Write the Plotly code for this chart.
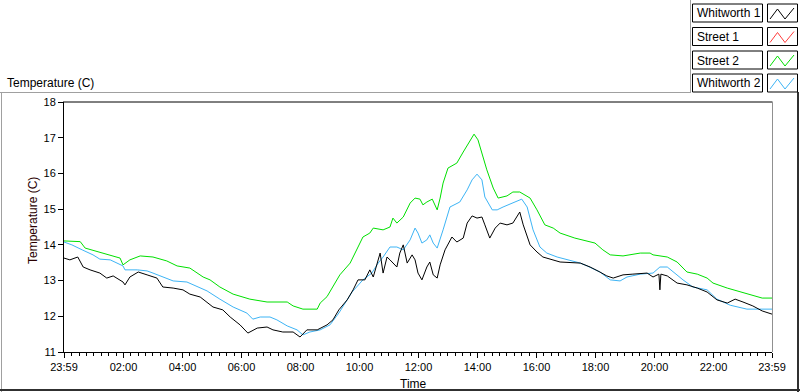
import plotly.graph_objects as go

# ---------------- data (minutes after 00:00; -1 = 23:59 previous day) ----------------
w1_min = [-1, 11, 27, 38, 52, 72, 86, 99, 119, 123, 133, 150, 168, 188, 200, 221, 241, 255, 276, 290,
          302, 322, 337, 357, 373, 392, 412, 424, 444, 465, 479, 493, 514, 534, 546, 558, 575, 587, 597,
          611, 621, 628, 642, 648, 656, 662, 676, 682, 689, 697, 707, 713, 719, 727, 737, 743, 750, 758,
          764, 774, 788, 798, 811, 819, 829, 839, 849, 855, 865, 876, 886, 900, 912, 926, 933, 947, 961,
          973, 994, 1008, 1049, 1069, 1089, 1103, 1116, 1136, 1156, 1185, 1197, 1209, 1211, 1213, 1226,
          1246, 1266, 1287, 1307, 1327, 1348, 1364, 1380, 1400, 1419, 1439]
w1_temp = [13.63, 13.58, 13.66, 13.38, 13.30, 13.21, 13.07, 13.13, 12.96, 12.88, 13.10, 13.24, 13.16, 13.07,
           12.82, 12.79, 12.74, 12.62, 12.54, 12.40, 12.26, 12.18, 11.98, 11.76, 11.53, 11.67, 11.70, 11.62,
           11.56, 11.56, 11.42, 11.62, 11.62, 11.76, 11.90, 12.18, 12.46, 12.74, 13.02, 13.02, 13.30, 13.10,
           13.77, 13.21, 13.66, 13.58, 13.38, 13.77, 14.00, 13.49, 13.72, 13.58, 13.21, 13.02, 13.38, 13.52,
           13.16, 13.07, 13.44, 13.86, 14.22, 14.08, 14.19, 14.61, 14.81, 14.75, 14.78, 14.56, 14.19, 14.47,
           14.61, 14.56, 14.61, 14.92, 14.56, 14.00, 13.80, 13.66, 13.58, 13.52, 13.49, 13.38, 13.24, 13.13,
           13.07, 13.16, 13.18, 13.21, 13.10, 13.18, 12.74, 13.18, 13.13, 12.93, 12.88, 12.79, 12.68, 12.46,
           12.37, 12.48, 12.40, 12.29, 12.15, 12.06]

s2_min = [-1, 32, 42, 78, 113, 119, 133, 154, 180, 208, 229, 255, 282, 296, 316, 343, 377, 412, 453, 465,
          485, 514, 520, 534, 546, 560, 581, 595, 607, 621, 628, 648, 662, 668, 676, 689, 703, 713, 723, 729,
          737, 748, 758, 764, 770, 780, 798, 811, 825, 833, 841, 851, 859, 872, 882, 900, 912, 926, 947, 961,
          977, 994, 1008, 1038, 1079, 1095, 1110, 1136, 1171, 1191, 1197, 1226, 1246, 1266, 1287, 1307, 1319,
          1348, 1374, 1394, 1419, 1439]
s2_temp = [14.11, 14.09, 13.91, 13.77, 13.63, 13.44, 13.58, 13.69, 13.66, 13.55, 13.41, 13.35, 13.10, 13.02,
           12.82, 12.62, 12.48, 12.40, 12.40, 12.29, 12.20, 12.20, 12.37, 12.55, 12.82, 13.16, 13.49, 13.86,
           14.22, 14.33, 14.47, 14.42, 14.50, 14.75, 14.61, 14.78, 15.17, 15.31, 15.28, 15.12, 15.20, 15.28,
           14.98, 15.31, 15.73, 16.15, 16.29, 16.60, 16.94, 17.10, 16.94, 16.46, 16.10, 15.59, 15.31, 15.37,
           15.48, 15.48, 15.31, 14.98, 14.56, 14.47, 14.33, 14.19, 14.05, 13.86, 13.72, 13.69, 13.77, 13.77,
           13.72, 13.66, 13.52, 13.24, 13.18, 13.07, 12.93, 12.79, 12.68, 12.60, 12.51, 12.51]

w2_min = [-1, 15, 36, 58, 72, 93, 119, 123, 148, 168, 180, 200, 221, 249, 270, 290, 316, 343, 371, 383, 398,
          418, 432, 453, 473, 485, 499, 520, 540, 558, 585, 607, 625, 638, 648, 662, 676, 689, 703, 713, 719,
          727, 737, 743, 750, 758, 770, 784, 804, 819, 829, 839, 849, 855, 870, 880, 892, 912, 930, 941, 953,
          967, 981, 1002, 1049, 1063, 1089, 1110, 1130, 1144, 1171, 1197, 1211, 1226, 1238, 1258, 1278, 1307,
          1327, 1354, 1388, 1419, 1439]
w2_temp = [14.08, 14.00, 13.86, 13.72, 13.60, 13.58, 13.41, 13.30, 13.30, 13.27, 13.21, 13.10, 12.99, 12.96,
           12.82, 12.71, 12.48, 12.26, 12.09, 11.92, 11.98, 11.98, 11.90, 11.73, 11.62, 11.48, 11.56, 11.62,
           11.76, 12.09, 12.68, 13.02, 13.21, 13.49, 13.66, 13.94, 13.94, 13.86, 14.14, 14.47, 14.33, 14.05,
           14.14, 14.28, 14.05, 13.91, 14.42, 15.06, 15.20, 15.54, 15.82, 15.98, 15.82, 15.34, 14.98, 14.98,
           15.06, 15.17, 15.28, 15.06, 14.42, 13.94, 13.77, 13.66, 13.49, 13.41, 13.24, 13.02, 12.99, 13.10,
           13.18, 13.21, 13.38, 13.38, 13.24, 13.02, 12.82, 12.74, 12.48, 12.31, 12.20, 12.20, 12.20]

series_names = ["Whitworth 1", "Street 1", "Street 2", "Whitworth 2"]
series_colors = ["#000000", "#ff3c3c", "#00e000", "#3db4f5"]

x_tick_vals = [-1, 120, 240, 360, 480, 600, 720, 840, 960, 1080, 1200, 1320, 1439]
x_tick_text = ["23:59", "02:00", "04:00", "06:00", "08:00", "10:00", "12:00", "14:00", "16:00",
               "18:00", "20:00", "22:00", "23:59"]
y_tick_vals = [11, 12, 13, 14, 15, 16, 17, 18]

# ---------------- layout helpers (pixel -> paper) ----------------
W, H = 800, 392
PL, PR, PT, PB = 64, 772, 102, 352


def X(px):
    return (px - PL) / (PR - PL)


def Y(py):
    return (PB - py) / (PB - PT)


FONT = "Liberation Sans, Arial, sans-serif"

fig = go.Figure()
fig.add_trace(go.Scatter(x=w2_min, y=w2_temp, mode="lines", line=dict(color=series_colors[3], width=1),
                         name=series_names[3], showlegend=False))
fig.add_trace(go.Scatter(x=s2_min, y=s2_temp, mode="lines", line=dict(color=series_colors[2], width=1),
                         name=series_names[2], showlegend=False))
fig.add_trace(go.Scatter(x=w1_min, y=w1_temp, mode="lines", line=dict(color=series_colors[0], width=1),
                         name=series_names[0], showlegend=False))

shapes = []
annotations = []

# outer frame
shapes.append(dict(type="line", xref="paper", yref="paper", x0=X(0), x1=X(690), y0=Y(92.5), y1=Y(92.5),
                   line=dict(color="#a0a0a0", width=1)))
shapes.append(dict(type="line", xref="paper", yref="paper", x0=X(1.5), x1=X(1.5), y0=Y(92.5), y1=Y(392),
                   line=dict(color="#a0a0a0", width=1)))
shapes.append(dict(type="line", xref="paper", yref="paper", x0=X(690.5), x1=X(690.5), y0=Y(0), y1=Y(93),
                   line=dict(color="#a0a0a0", width=1)))
shapes.append(dict(type="line", xref="paper", yref="paper", x0=X(0), x1=X(800), y0=Y(390), y1=Y(390),
                   line=dict(color="#303030", width=2)))
shapes.append(dict(type="line", xref="paper", yref="paper", x0=X(798), x1=X(798), y0=Y(92), y1=Y(392),
                   line=dict(color="#303030", width=2)))
# plot frame: top black, right gray
shapes.append(dict(type="line", xref="paper", yref="paper", x0=X(63), x1=X(772.5), y0=Y(102), y1=Y(102),
                   line=dict(color="#000000", width=1)))
shapes.append(dict(type="line", xref="paper", yref="paper", x0=X(772.5), x1=X(772.5), y0=Y(102), y1=Y(352),
                   line=dict(color="#909090", width=1)))

# legend
row_tops = [4, 27.5, 51, 74]
for name, color, top in zip(series_names, series_colors, row_tops):
    bot = top + 18
    shapes.append(dict(type="rect", xref="paper", yref="paper", x0=X(692.5), x1=X(762.5), y0=Y(bot), y1=Y(top),
                       line=dict(color="#000000", width=1), fillcolor="white"))
    shapes.append(dict(type="rect", xref="paper", yref="paper", x0=X(767.5), x1=X(797.5), y0=Y(bot), y1=Y(top),
                       line=dict(color="#000000", width=1), fillcolor="white"))
    pts = [(770, bot - 3), (777.5, top + 5), (785, bot - 3), (794, top + 4)]
    path = "M " + " L ".join(f"{X(px)},{Y(py)}" for px, py in pts)
    shapes.append(dict(type="path", xref="paper", yref="paper", path=path,
                       line=dict(color=color, width=1)))
    annotations.append(dict(x=X(695), y=Y(top + 9.5), xref="paper", yref="paper", text=name, showarrow=False,
                            xanchor="left", yanchor="middle", font=dict(family=FONT, size=12, color="#000")))

# titles
annotations.append(dict(x=X(5), y=Y(83), xref="paper", yref="paper", text="Temperature (C)", showarrow=False,
                        xanchor="left", yanchor="middle", font=dict(family=FONT, size=12, color="#000")))
annotations.append(dict(x=X(33), y=Y(221), xref="paper", yref="paper", text="Temperature (C)", showarrow=False,
                        textangle=-90, xanchor="center", yanchor="middle",
                        font=dict(family=FONT, size=12, color="#2a0000")))
annotations.append(dict(x=X(413), y=Y(384), xref="paper", yref="paper", text="Time", showarrow=False,
                        xanchor="center", yanchor="middle", font=dict(family=FONT, size=12, color="#000")))

fig.update_layout(
    width=W, height=H,
    margin=dict(l=PL, r=W - PR, t=PT, b=H - PB),
    paper_bgcolor="white", plot_bgcolor="white",
    showlegend=False,
    shapes=shapes, annotations=annotations,
    xaxis=dict(range=[-1, 1439], tickmode="array", tickvals=x_tick_vals, ticktext=x_tick_text,
               ticks="outside", ticklen=5, tickwidth=1, tickcolor="#000",
               showgrid=False, zeroline=False, showline=True, linecolor="#000", linewidth=1,
               tickfont=dict(family=FONT, size=11, color="#000"),
               minor=dict(tickmode="linear", tick0=0, dtick=15, ticks="outside", ticklen=3,
                          tickcolor="#000", tickwidth=1, showgrid=False)),
    yaxis=dict(range=[11, 18], tickmode="array", tickvals=y_tick_vals,
               ticks="outside", ticklen=5, tickwidth=1, tickcolor="#000",
               showgrid=False, zeroline=False, showline=True, linecolor="#000", linewidth=1,
               tickfont=dict(family=FONT, size=11, color="#000")),
)

fig.write_html("out.html", config={"displayModeBar": False},
               post_script="document.body.style.margin='0';document.body.style.padding='0';"
                           "document.documentElement.style.overflow='hidden';")
